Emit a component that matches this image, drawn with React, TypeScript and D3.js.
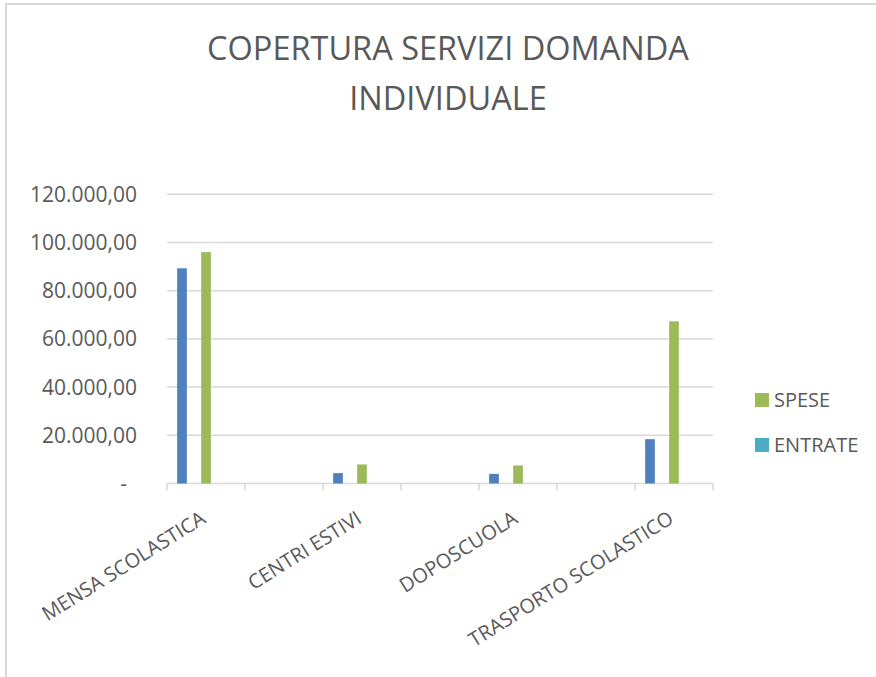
import React from "react";
import * as d3 from "d3";

const titleLines = ["COPERTURA SERVIZI DOMANDA", "INDIVIDUALE"];
const categories = ["MENSA SCOLASTICA", "", "CENTRI ESTIVI", "", "DOPOSCUOLA", "", "TRASPORTO SCOLASTICO"];
const seriesKeys = ["serie1", "spese", "entrate"];
const seriesNames = ["", "SPESE", "ENTRATE"];
const seriesColors = ["#4F81BD", "#9BBB59", "#4BACC6"];
const serie1Values = [89300, null, 4300, null, 4000, null, 18400];
const speseValues = [96000, null, 7900, null, 7500, null, 67300];
const entrateValues = [null, null, null, null, null, null, null];
const yTicks = [0, 20000, 40000, 60000, 80000, 100000, 120000];
const legendEntries = [1, 2];

const W = 876;
const H = 677;
const FONT = "'Open Sans', 'DejaVu Sans', sans-serif";
const TXT = "#595959";
const GRID = "#D9D9D9";

const itFormat = d3.formatLocale({ decimal: ",", thousands: ".", grouping: [3], currency: ["", ""] }).format(",.2f");

export default function App() {
  const allValues = [serie1Values, speseValues, entrateValues];
  const x = d3.scaleBand<number>().domain(d3.range(categories.length)).range([167, 713]).padding(0);
  const inner = d3.scaleBand<string>().domain(seriesKeys).range([0, x.bandwidth()]).paddingInner(0.596).paddingOuter(0.423);
  const y = d3.scaleLinear().domain([0, 120000]).range([483.5, 194.3]);
  const ticksX = d3.range(categories.length + 1).map((i) => (i < categories.length ? (x(i) as number) : (x(categories.length - 1) as number) + x.bandwidth()));

  return (
    <svg width={W} height={H} style={{ position: "absolute", left: 0, top: 0, background: "#fff" }} fontFamily={FONT}>
      <rect x={6} y={4} width={W + 20} height={H + 20} fill="#fff" stroke={GRID} strokeWidth={2} />
      {titleLines.map((t, i) => (
        <text key={i} x={448} y={59.5 + i * 50} textAnchor="middle" fontSize={32.5} fill={TXT}>
          {t}
        </text>
      ))}
      {yTicks.map((t) => (
        <g key={t}>
          <line x1={167} x2={713} y1={y(t)} y2={y(t)} stroke={GRID} strokeWidth={1.5} />
          <text x={t === 0 ? 127 : 137} y={y(t)} dy="0.36em" textAnchor="end" fontSize={21} fill={TXT}>
            {t === 0 ? "-" : itFormat(t)}
          </text>
        </g>
      ))}
      {ticksX.map((tx, i) => (
        <line key={i} x1={tx} x2={tx} y1={y(0)} y2={y(0) + 7} stroke={GRID} strokeWidth={1.5} />
      ))}
      {allValues.map((vals, si) =>
        vals.map((v, ci) =>
          v == null ? null : (
            <rect
              key={`${si}-${ci}`}
              x={(x(ci) as number) + (inner(seriesKeys[si]) as number)}
              y={y(v)}
              width={inner.bandwidth()}
              height={y(0) - y(v)}
              fill={seriesColors[si]}
            />
          )
        )
      )}
      {categories.map((c, i) =>
        c ? (
          <text
            key={i}
            transform={`translate(${(x(i) as number) + x.bandwidth() / 2 + 1},522) rotate(-32)`}
            textAnchor="end"
            fontSize={20}
            fill={TXT}
          >
            {c}
          </text>
        ) : null
      )}
      {legendEntries.map((si, i) => (
        <g key={si} transform={`translate(755,${400 + i * 45})`}>
          <rect x={0} y={-7} width={14} height={14} fill={seriesColors[si]} />
          <text x={19} y={0} dy="0.36em" fontSize={20} fill={TXT}>
            {seriesNames[si]}
          </text>
        </g>
      ))}
    </svg>
  );
}
